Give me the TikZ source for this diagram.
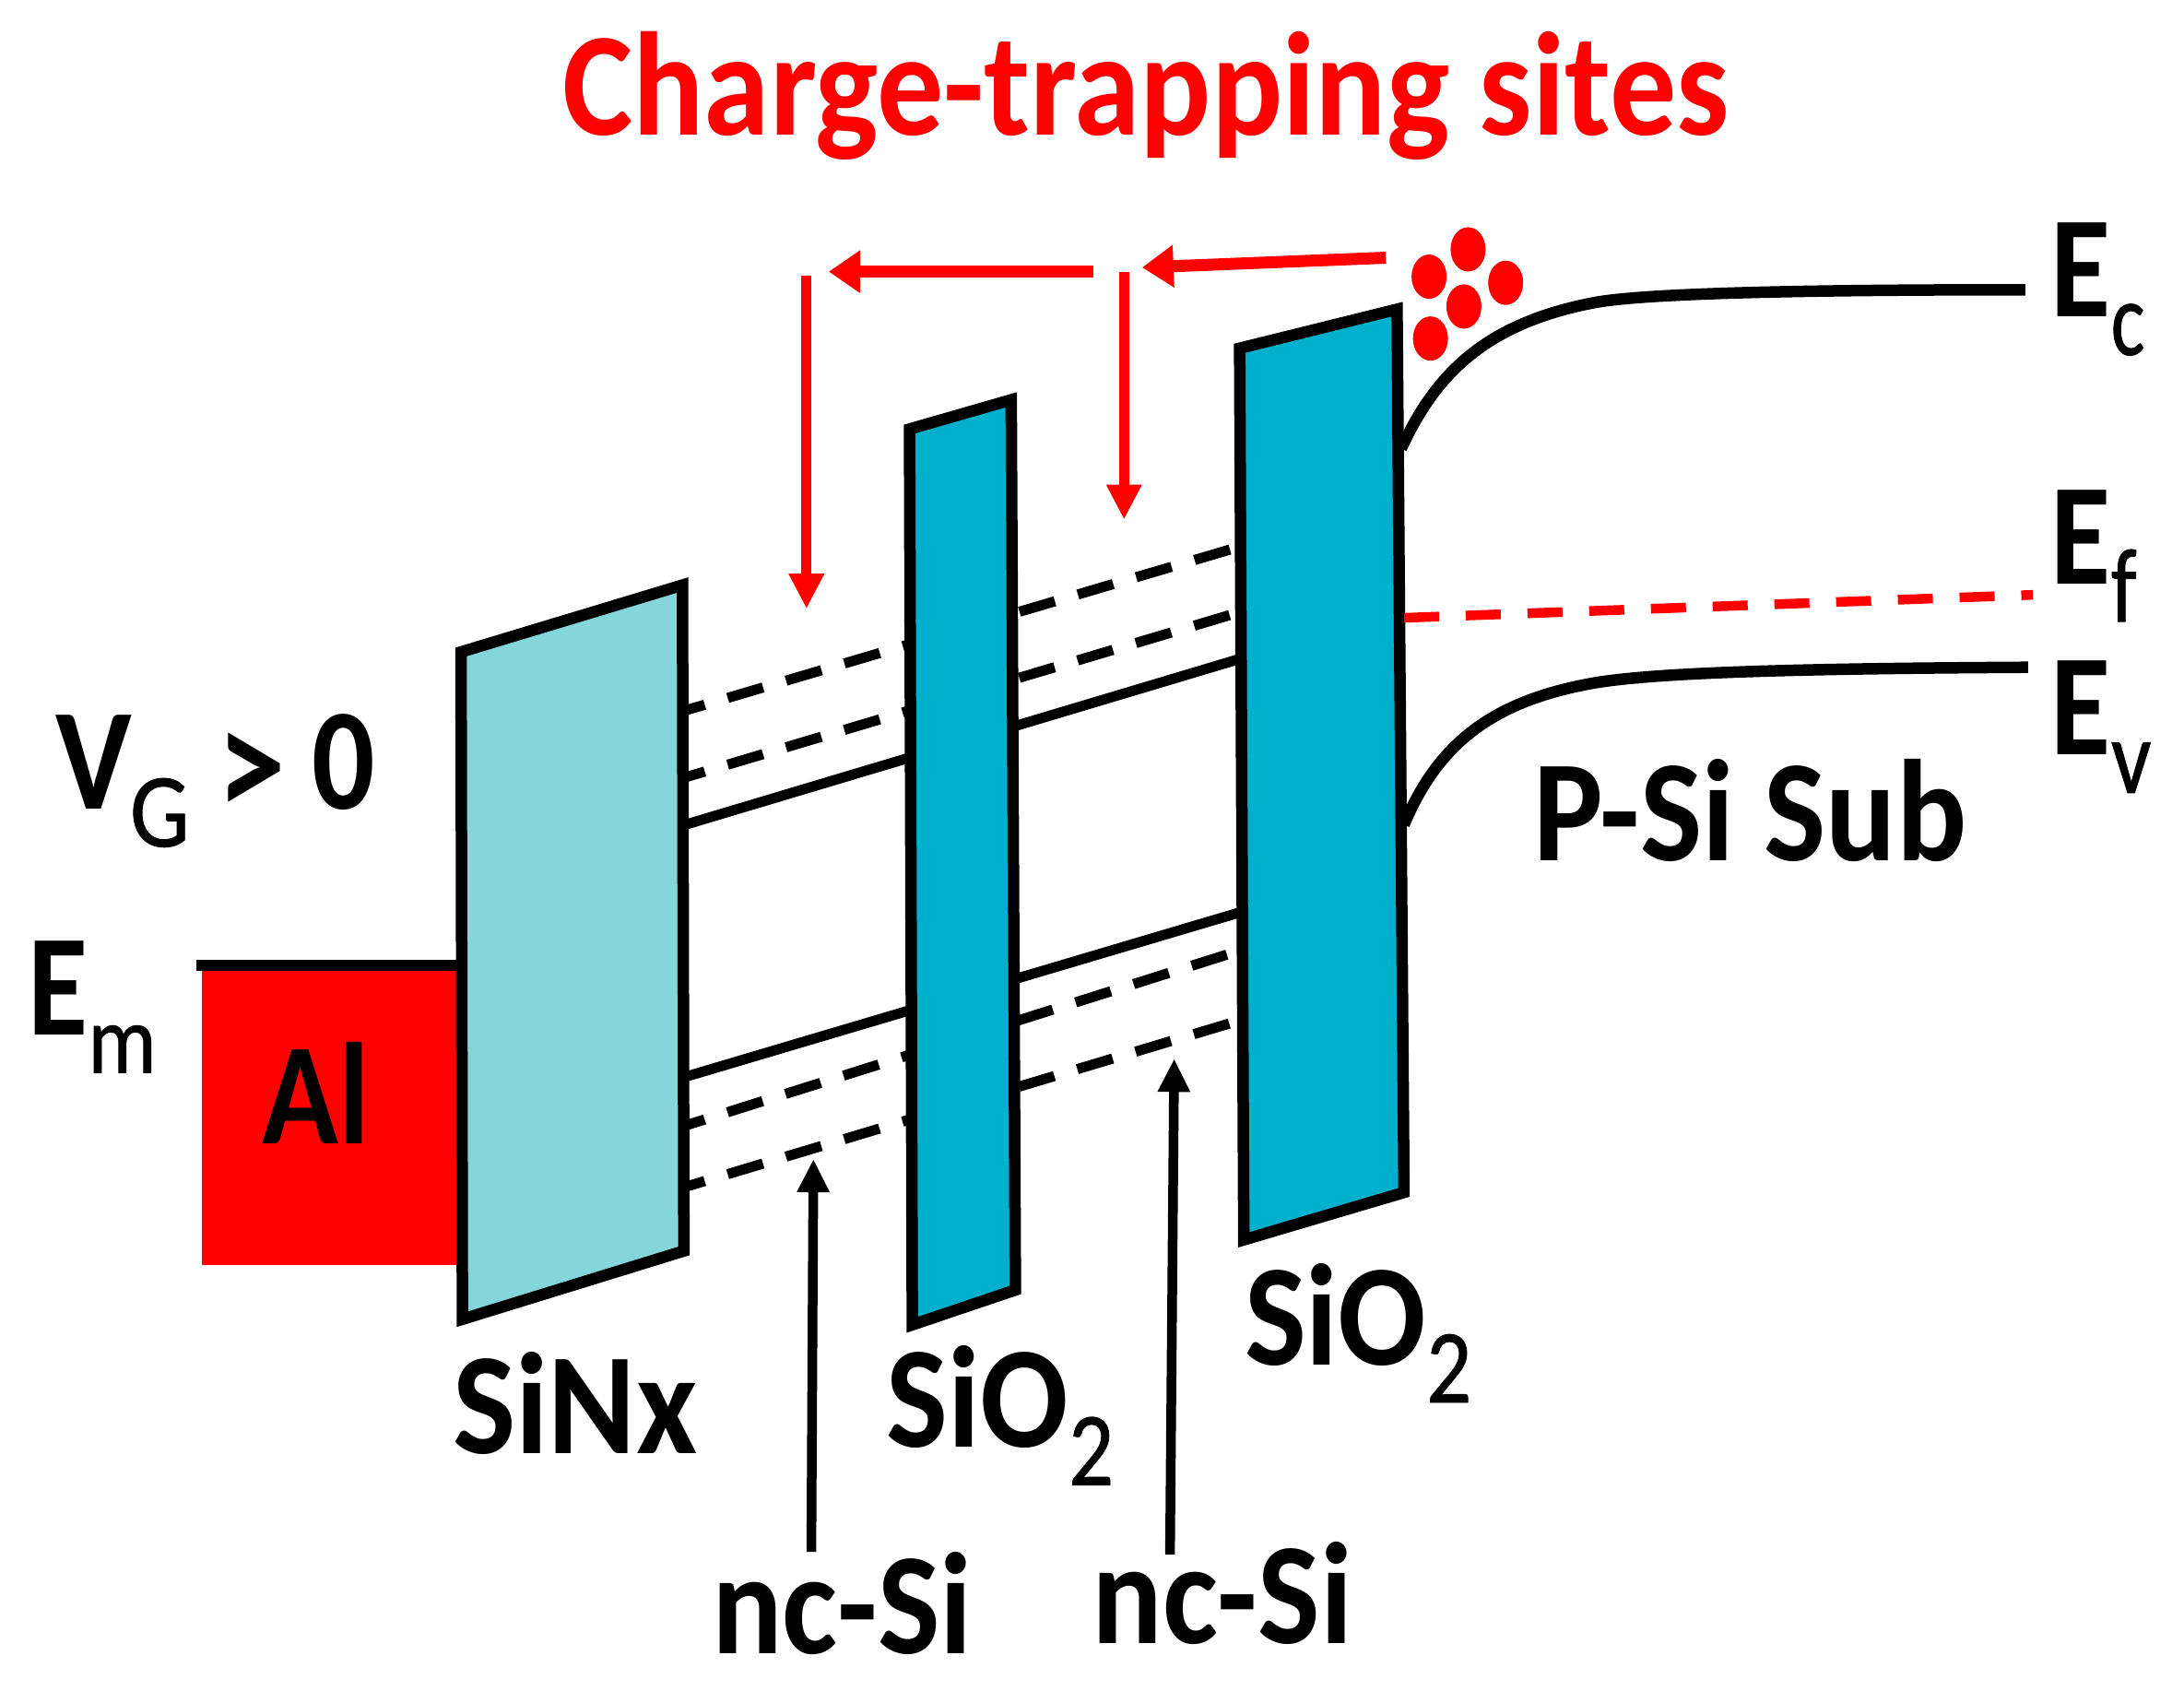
\documentclass[tikz,border=0pt]{standalone}
\usepackage{fontspec}
\setmainfont{Carlito}
\newfontface\subf[FakeBold=0.8]{Carlito}
\usetikzlibrary{arrows.meta,shapes.geometric}
\definecolor{tealA}{HTML}{84D6DA}
\definecolor{tealB}{HTML}{00B0CD}
\newcommand{\fs}[1]{\fontsize{#1pt}{#1pt}\selectfont}
\newcommand{\bt}[2][.9]{\scalebox{#1}[1]{\fs{157}\bfseries #2}}
\newcommand{\subt}[2][.8]{\raisebox{-41pt}{\scalebox{#1}[1]{\subf\fs{114}#2}}}
\tikzset{
  x=1.5108pt,y=-1.5108pt,
  lbl/.style={anchor=base west,inner sep=0pt,outer sep=0pt},
  panel/.style={draw=black,line width=12.5pt,line join=miter},
  band/.style={draw=black,line width=11pt},
  banddash/.style={band,dash pattern=on 40pt off 26pt,dash phase=18pt},
  redarrow/.style={draw=red,line width=13pt,-{Triangle[length=34pt,width=44pt]}},
  redvarrow/.style={draw=red,line width=11pt,-{Triangle[length=38pt,width=36pt]}},
  blackarrow/.style={draw=black,line width=10.5pt,-{Triangle[length=36pt,width=33pt]}},
  levelline/.style={draw=black,line width=12.5pt},
  dot/.style={fill=red,draw=none,ellipse,inner sep=0pt,minimum width=38pt,minimum height=48pt}
}
\begin{document}
\begin{tikzpicture}
\useasboundingbox (0,0) rectangle (1568,1213.3);
\fill[white] (0,0) rectangle (1568,1213.3);
% coordinates
\foreach \n/\x/\y in {a1/492/510,a2/883/394.5,b1/492/558,b2/883/441.5,c1/492/592,c2/890/473,
  d1/492/773,d2/890/655,e1/492/808,e2/883/684.6,f1/492/852,f2/883/734.6,
  r1s/995/185,r1e/820/192,r2s/785/195,r2e/595/195,r3s/579/198,r3e/579/437,r4s/807/195,r4e/807/373,
  k1s/582.5/1114,k1e/584/832,k2s/840/1116,k2e/843/760,
  ecs/1006/322,ecm/1146/217,ece/1454/208,evs/1008/592,evm/1146/490,eve/1456/479,
  efs/1008/443.5,efe/1459.5/427,ems/141/693,eme/330/693}{\coordinate (\n) at (\x,\y);}
% Al
\node[fill=red,inner sep=0pt,minimum width=279.5pt,minimum height=321.8pt,anchor=north west] (al) at (145,695) {};
\draw[levelline] (ems) -- (eme);
% bands
\draw[banddash] (a1) -- (a2);
\draw[banddash] (b1) -- (b2);
\draw[band] (c1) -- (c2);
\draw[band] (d1) -- (d2);
\draw[banddash] (e1) -- (e2);
\draw[banddash] (f1) -- (f2);
% panels
\draw[panel,fill=tealA] (331,468) -- (490,420) -- (491,898) -- (332,947) -- cycle;
\draw[panel,fill=tealB] (653,308) -- (726,287) -- (729,926) -- (655,951) -- cycle;
\draw[panel,fill=tealB] (890,250) -- (1003,222) -- (1008,856) -- (893,890) -- cycle;
% semiconductor
\draw[levelline] (ecs) .. controls (1030,270) and (1065,232) .. (ecm) .. controls (1180,211) and (1280,208) .. (ece);
\draw[levelline] (evs) .. controls (1032,535) and (1070,503) .. (evm) .. controls (1190,483) and (1280,480) .. (eve);
\draw[draw=red,line width=10.5pt,dash pattern=on 38pt off 29pt] (efs) -- (efe);
% electrons
\foreach \n/\x/\y in {q1/1054/179,q2/1026/198.6,q3/1081/203,q4/1051/220,q5/1027/243}
  \node[dot] (\n) at (\x,\y) {};
% arrows
\draw[redarrow] (r1s) -- (r1e);
\draw[redarrow] (r2s) -- (r2e);
\draw[redvarrow] (r3s) -- (r3e);
\draw[redvarrow] (r4s) -- (r4e);
\draw[blackarrow] (k1s) -- (k1e);
\draw[blackarrow] (k2s) -- (k2e);
% text
\node[lbl,text=red] (title) at (404,97) {\scalebox{.9}[1]{\fs{160}\bfseries Charge-trapping sites}};
\node[lbl] (ec) at (1472.5,227.6) {\bt[.85]{E}\subt[.76]{c}};
\node[lbl] (ef) at (1472.5,419) {\bt[.85]{E}\subt[.8]{f}};
\node[lbl] (ev) at (1472.5,542) {\bt[.85]{E}\subt[.85]{v}};
\node[lbl] (psi) at (1100.7,617.6) {\bt[.906]{P-Si Sub}};
\node[lbl] (vg) at (40,580.5) {\rlap{\bt[.89]{V}}\rlap{\hspace{80pt}\subt[.9]{G}}\rlap{\hspace{175pt}\raisebox{-9pt}{\scalebox{.88}[1]{\fs{170}\bfseries >}}}\rlap{\hspace{278pt}\bt[.86]{0}}\hspace{350pt}};
\node[lbl] (em) at (20,743) {\bt[.85]{E}\raisebox{-41pt}{\scalebox{.88}[1]{\subf\fs{106}m}}};
\node[lbl] (altext) at (188.6,821) {\bt[.87]{Al}};
\node[lbl] (sinx) at (325,1043.6) {\bt[.92]{SiNx}};
\node[lbl] (so1) at (636.7,1039) {\bt[.9]{SiO}\subt[.85]{2}};
\node[lbl] (so2) at (893.6,979.6) {\bt[.9]{SiO}\subt[.85]{2}};
\node[lbl] (nc1) at (511,1186.8) {\bt[.91]{nc-Si}};
\node[lbl] (nc2) at (784,1180) {\bt[.91]{nc-Si}};
\end{tikzpicture}
\end{document}
